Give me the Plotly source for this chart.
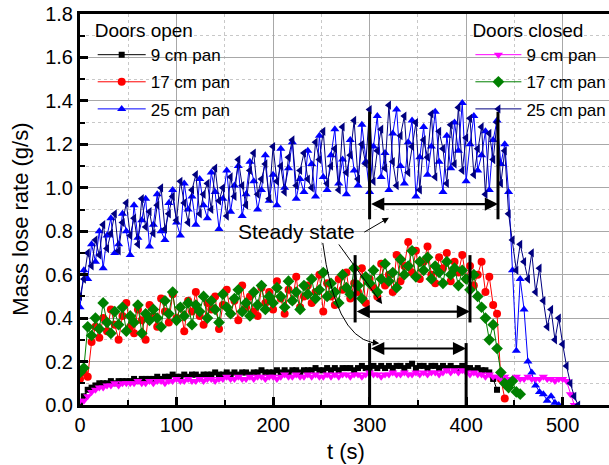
import plotly.graph_objects as go

# sampling times (s)
T = [0, 4, 8, 12, 16, 20, 24, 28, 32, 36, 40, 44, 48, 52, 56, 60, 64, 68, 72, 76,
     80, 84, 88, 92, 96, 100, 104, 108, 112, 116, 120, 124, 128, 132, 136, 140, 144, 148, 152, 156,
     160, 164, 168, 172, 176, 180, 184, 188, 192, 196, 200, 204, 208, 212, 216, 220, 224, 228, 232, 236,
     240, 244, 248, 252, 256, 260, 264, 268, 272, 276, 280, 284, 288, 292, 296, 300, 304, 308, 312, 316,
     320, 324, 328, 332, 336, 340, 344, 348, 352, 356, 360, 364, 368, 372, 376, 380, 384, 388, 392, 396,
     400, 404, 408, 412, 416, 420, 424, 428, 432, 436, 440, 444, 448, 452, 456, 460, 464, 468, 472, 476,
     480, 484, 488, 492, 496, 500, 504, 508, 512, 516]

open_9 = [0.00,0.04,0.07,0.08,0.09,0.10,0.10,0.10,0.11,0.10,
          0.11,0.11,0.11,0.11,0.12,0.11,0.12,0.12,0.12,0.12,
          0.13,0.12,0.13,0.13,0.14,0.13,0.13,0.14,0.13,0.14,
          0.14,0.13,0.14,0.14,0.14,0.15,0.14,0.14,0.15,0.14,
          0.15,0.14,0.15,0.15,0.14,0.15,0.15,0.16,0.15,0.15,
          0.15,0.16,0.15,0.16,0.15,0.16,0.16,0.15,0.16,0.16,
          0.16,0.17,0.16,0.16,0.17,0.16,0.17,0.16,0.17,0.17,
          0.17,0.16,0.17,0.18,0.17,0.17,0.18,0.17,0.18,0.17,
          0.18,0.17,0.18,0.18,0.17,0.18,0.19,0.17,0.18,0.18,
          0.17,0.18,0.18,0.17,0.18,0.17,0.18,0.17,0.17,0.18,
          0.17,0.17,0.16,0.17,0.16,0.16,0.15,0.12,0.07]

open_17 = [0.12,0.15,0.13,0.29,0.36,0.31,0.40,0.34,0.44,0.37,
           0.30,0.41,0.47,0.36,0.33,0.44,0.39,0.30,0.46,0.41,
           0.36,0.49,0.43,0.38,0.51,0.40,0.45,0.34,0.48,0.43,
           0.52,0.41,0.37,0.47,0.44,0.50,0.35,0.46,0.53,0.42,
           0.48,0.39,0.55,0.45,0.50,0.43,0.41,0.54,0.47,0.52,
           0.44,0.57,0.49,0.42,0.53,0.48,0.59,0.45,0.50,0.55,
           0.47,0.52,0.60,0.43,0.56,0.50,0.46,0.58,0.53,0.61,
           0.49,0.56,0.52,0.63,0.47,0.58,0.54,0.50,0.65,0.55,
           0.60,0.52,0.69,0.57,0.64,0.75,0.61,0.71,0.58,0.66,
           0.73,0.60,0.56,0.68,0.63,0.70,0.57,0.66,0.61,0.69,
           0.58,0.64,0.55,0.60,0.66,0.52,0.59,0.46,0.42,0.12,0.03]

open_25 = [0.45,0.62,0.58,0.74,0.66,0.80,0.63,0.78,0.86,0.70,
           0.74,0.88,0.80,0.69,0.92,0.77,0.85,0.95,0.73,0.83,
           0.97,0.80,0.76,0.93,0.99,0.84,0.78,1.02,0.90,0.96,
           0.83,1.04,0.92,0.86,1.07,0.98,0.81,0.95,1.08,0.89,
           1.01,1.10,0.87,0.97,1.12,1.03,0.90,0.99,1.15,0.94,
           1.06,0.92,1.18,1.00,1.09,1.21,0.95,1.04,0.98,1.17,
           1.11,0.96,1.24,1.05,0.99,1.15,1.27,1.02,1.13,0.97,
           1.22,1.08,1.01,1.29,1.12,0.98,1.19,1.33,1.05,1.16,
           0.99,1.25,1.36,1.10,1.02,1.21,1.31,0.96,1.14,1.28,
           1.06,1.19,1.35,1.12,0.98,1.24,1.09,1.30,1.17,1.39,
           1.03,1.20,1.33,1.08,1.15,1.26,0.99,1.22,1.31,1.11,
           1.20,0.98,0.62,0.25,0.58,0.44,0.20,0.15,0.09,0.06,
           0.05,0.02,0.04,0.01,0.00]

closed_9 = [0.02,0.02,0.04,0.06,0.07,0.08,0.08,0.09,0.09,0.10,
            0.09,0.10,0.10,0.10,0.10,0.11,0.10,0.10,0.11,0.10,
            0.11,0.11,0.10,0.11,0.11,0.12,0.11,0.11,0.12,0.11,
            0.11,0.12,0.11,0.12,0.12,0.11,0.12,0.12,0.13,0.12,
            0.12,0.13,0.12,0.12,0.13,0.12,0.13,0.13,0.12,0.13,
            0.13,0.12,0.13,0.14,0.13,0.13,0.14,0.13,0.13,0.14,
            0.13,0.14,0.13,0.13,0.14,0.13,0.14,0.13,0.14,0.14,
            0.13,0.14,0.14,0.13,0.14,0.15,0.14,0.14,0.13,0.14,
            0.14,0.15,0.14,0.14,0.15,0.14,0.14,0.15,0.14,0.15,
            0.14,0.15,0.15,0.14,0.15,0.16,0.15,0.16,0.15,0.16,
            0.15,0.14,0.15,0.14,0.14,0.13,0.14,0.13,0.13,0.12,
            0.13,0.12,0.12,0.13,0.12,0.12,0.13,0.12,0.12,0.12,
            0.13,0.12,0.12,0.11,0.12,0.12,0.11,0.05,0.00]

closed_17 = [0.15,0.17,0.36,0.32,0.40,0.35,0.47,0.38,0.33,0.43,
             0.37,0.45,0.34,0.41,0.38,0.46,0.33,0.42,0.39,0.44,
             0.40,0.36,0.48,0.42,0.52,0.39,0.45,0.41,0.47,0.37,
             0.46,0.43,0.50,0.40,0.48,0.44,0.38,0.51,0.45,0.42,
             0.49,0.53,0.43,0.47,0.41,0.52,0.46,0.55,0.44,0.50,
             0.47,0.54,0.50,0.45,0.57,0.48,0.52,0.44,0.55,0.51,
             0.58,0.49,0.53,0.61,0.50,0.56,0.52,0.47,0.60,0.54,
             0.51,0.63,0.55,0.49,0.59,0.56,0.62,0.52,0.58,0.65,
             0.57,0.61,0.54,0.67,0.60,0.64,0.71,0.59,0.66,0.62,
             0.68,0.58,0.64,0.61,0.56,0.66,0.60,0.63,0.55,0.62,
             0.58,0.53,0.60,0.50,0.45,0.40,0.30,0.37,0.26,0.15,
             0.10,0.08,0.11,0.06,0.05]

closed_25 = [0.50,0.58,0.70,0.64,0.76,0.69,0.83,0.72,0.79,0.88,
             0.71,0.84,0.93,0.78,0.86,0.74,0.95,0.82,0.89,0.79,
             0.92,1.00,0.81,0.88,0.96,0.85,1.03,0.93,0.84,0.99,
             1.06,0.88,0.97,1.02,0.90,1.09,0.94,1.00,0.87,1.05,
             0.96,1.13,1.01,0.92,1.08,1.16,0.97,1.04,1.11,0.95,
             1.19,1.03,1.10,0.98,1.14,1.22,1.01,1.08,1.16,1.04,
             1.00,1.21,1.13,1.26,1.02,1.10,1.18,0.99,1.28,1.07,
             1.15,1.31,1.04,1.20,1.11,1.36,1.03,1.17,1.27,1.09,
             1.38,1.12,1.01,1.24,1.33,1.07,1.19,1.30,0.99,1.22,
             1.14,1.34,1.05,1.26,1.18,1.02,1.29,1.11,1.37,1.08,
             1.23,1.32,1.06,1.18,1.28,0.97,1.25,1.13,1.30,1.02,
             1.17,0.88,0.76,0.62,0.74,0.66,0.58,0.70,0.52,0.63,
             0.48,0.36,0.44,0.30,0.40,0.28,0.18,0.10,0.04,0.00]

labels = ["9 cm pan", "17 cm pan", "25 cm pan"]

# steady-state windows: (start, end, arrow level, bar top, bar bottom)
steady = [(300, 433, 0.925, 1.35, 0.855),
          (285, 404, 0.43, 0.69, 0.38),
          (300, 400, 0.26, 0.285, 0.0)]

FONT = "Arial, Liberation Sans, sans-serif"

fig = go.Figure()

series = [
    (open_9, labels[0], "#000000", "square", 6, "legend"),
    (open_17, labels[1], "#FF0000", "circle", 8, "legend"),
    (open_25, labels[2], "#0000FF", "triangle-up", 8, "legend"),
    (closed_9, labels[0], "#FF00FF", "triangle-down", 8, "legend2"),
    (closed_17, labels[1], "#008000", "diamond", 9, "legend2"),
    (closed_25, labels[2], "#000080", "triangle-left", 8, "legend2"),
]
for i, (vals, name, col, sym, size, leg) in enumerate(series):
    fig.add_trace(go.Scatter(
        x=T[:len(vals)], y=vals, mode="lines+markers", name=name,
        line=dict(color=col, width=1),
        marker=dict(symbol=sym, size=size, color=col, line=dict(width=0)),
        legend=leg, legendgroup="g%d" % i))

# steady-state bars and double arrows
for x0, x1, lev, top, bot in steady:
    for xx in (x0, x1):
        fig.add_shape(type="line", x0=xx, x1=xx, y0=bot, y1=top, xref="x", yref="y",
                      line=dict(color="black", width=3))
    fig.add_annotation(x=x1, y=lev, ax=x0, ay=lev, axref="x", ayref="y", xref="x", yref="y",
                       text="", showarrow=True, arrowside="end+start", arrowhead=2,
                       arrowsize=1.2, arrowwidth=2.2, arrowcolor="black")

# Steady state label with pointers
fig.add_annotation(x=224, y=0.8, xref="x", yref="y", text="Steady state", showarrow=False,
                   font=dict(family=FONT, size=21, color="black"))
fig.add_annotation(x=320, y=0.862, ax=293, ay=0.792, axref="x", ayref="y", xref="x", yref="y",
                   text="", showarrow=True, arrowhead=2, arrowsize=1.3, arrowwidth=1,
                   arrowcolor="black")
fig.add_annotation(x=313, y=0.465, ax=267, ay=0.746, axref="x", ayref="y", xref="x", yref="y",
                   text="", showarrow=True, arrowhead=2, arrowsize=1.3, arrowwidth=1,
                   arrowcolor="black")
fig.add_shape(type="path", path="M 251.5,0.746 Q 264,0.322 303,0.287", xref="x", yref="y",
              line=dict(color="black", width=1))
fig.add_annotation(x=310, y=0.284, ax=300, ay=0.289, axref="x", ayref="y", xref="x", yref="y",
                   text="", showarrow=True, arrowhead=2, arrowsize=1.3, arrowwidth=1,
                   arrowcolor="black")

# axis titles
fig.add_annotation(x=-0.112, y=0.476, xref="paper", yref="paper", text="Mass lose rate (g/s)",
                   textangle=-90, showarrow=False, xanchor="center", yanchor="middle",
                   font=dict(family=FONT, size=22, color="black"))
fig.add_annotation(x=0.502, y=-0.118, xref="paper", yref="paper", text="t (s)",
                   showarrow=False, xanchor="center", yanchor="middle",
                   font=dict(family=FONT, size=22, color="black"))

axis_common = dict(
    showline=True, linecolor="black", linewidth=3,
    ticks="inside", ticklen=8, tickwidth=2.5, tickcolor="black",
    showgrid=True, gridcolor="#a8a8a8", gridwidth=1,
    tickfont=dict(family=FONT, size=20, color="black"),
    zeroline=False,
)
fig.update_xaxes(range=[0, 548], dtick=100, tick0=0, mirror=True,
                 minor=dict(dtick=50, ticks="inside", ticklen=5, tickwidth=2, tickcolor="black",
                            showgrid=True, gridcolor="#c8c8c8", griddash="dot", gridwidth=1),
                 **axis_common)
fig.update_yaxes(range=[0, 1.8], dtick=0.2, tick0=0, tickformat=".1f",
                 minor=dict(dtick=0.1, ticks="inside", ticklen=5, tickwidth=2, tickcolor="black",
                            showgrid=True, gridcolor="#c8c8c8", griddash="dot", gridwidth=1),
                 **axis_common)

leg_common = dict(bgcolor="rgba(0,0,0,0)", borderwidth=0, xanchor="left", yanchor="top",
                  font=dict(family=FONT, size=17, color="black"), tracegroupgap=2)
fig.update_layout(
    width=609, height=465,
    margin=dict(l=80, r=0, t=14, b=60, autoexpand=False),
    paper_bgcolor="white", plot_bgcolor="white",
    showlegend=True,
    legend=dict(x=0.024, y=1.004, itemwidth=48,
                title=dict(text="Doors open", font=dict(family=FONT, size=19, color="black")),
                **leg_common),
    legend2=dict(x=0.738, y=1.004, itemwidth=46,
                 title=dict(text="Doors closed", font=dict(family=FONT, size=19, color="black")),
                 **leg_common),
)

fig.write_html("out.html")
